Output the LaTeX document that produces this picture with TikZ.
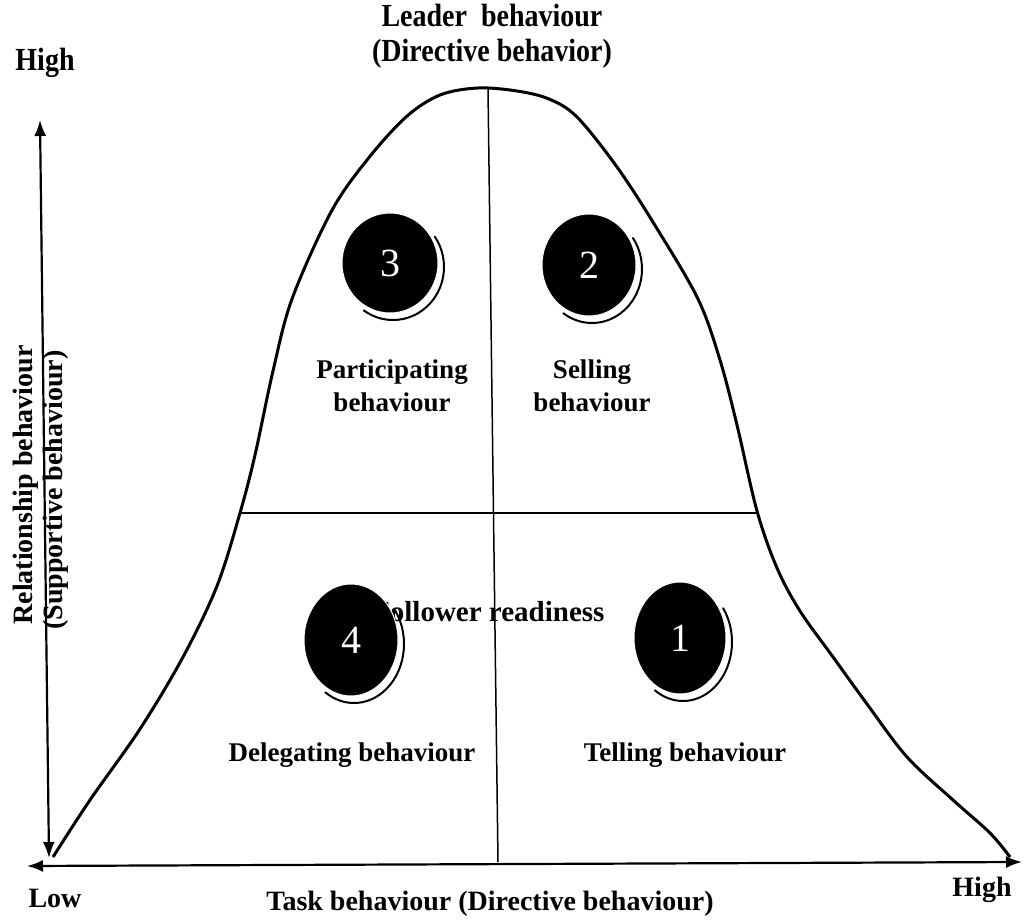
\documentclass[tikz,border=0pt]{standalone}
\usepackage{fontspec}
\setmainfont{Liberation Serif}
\usetikzlibrary{arrows.meta,shapes.geometric,calc}
\begin{document}
\begin{tikzpicture}[x=1pt,y=-1pt,
  lbl/.style={font=\fontsize{27}{33}\selectfont\bfseries, align=center, inner sep=0pt},
  ttl/.style={font=\fontsize{28}{33}\selectfont\bfseries, align=center, inner sep=0pt},
  axis/.style={line width=2.2pt, {Latex[length=16pt,width=12pt]}-{Latex[length=16pt,width=12pt]}},
  bell/.style={line width=3pt, line join=round},
  divider/.style={line width=1.5pt},
  badge/.style={ellipse, fill=black, draw=white, line width=1pt, inner sep=0pt, text=white,
                font=\fontsize{40}{40}\selectfont},
  shade/.style={line width=2pt, line cap=round}]
\fill[white] (0,0) rectangle (1029,921);
\useasboundingbox (0,0) rectangle (1029,921);

% axes
\coordinate (ytop) at (40,120);
\coordinate (ybot) at (49,858);
\coordinate (xl) at (27,866);
\coordinate (xr) at (1022,862);
\draw[axis] (ybot) -- (ytop);
\draw[axis] (xl) -- (xr);

% bell curve
\draw[bell] plot[smooth, tension=0.55] coordinates {
 (53,857) (90,800) (140,729) (183,657) (217,586) (240,513) (255,455) (273,371)
 (292,299) (331,212) (367,160) (406,117) (440,95) (478,88) (517,91) (549,99)
 (577,117) (617,167) (656,227) (698,299) (720,360) (737,425) (757,511) (777,568)
 (800,611) (833,657) (867,704) (907,757) (953,800) (990,833) (1010,857)};

% dividers
\coordinate (peak) at (488,89);
\coordinate (base) at (498,862);
\coordinate (hl) at (241,513);
\coordinate (hr) at (757,513);
\draw[divider] (peak) -- (base);
\draw[divider] (hl) -- (hr);

% labels
\node[ttl] (lead) at (492,36) {\scalebox{1}[1.15]{Leader\ \ behaviour}\\[2pt]\scalebox{1}[1.15]{(Directive behavior)}};
\node[ttl] (hightop) at (45,63) {\scalebox{1}[1.15]{High}};
\node[ttl] (low) at (55,898) {Low};
\node[ttl] (highr) at (982,890) {High};
\node[ttl] (task) at (490,904) {Task behaviour (Directive behaviour)};
\node[ttl, rotate=90] (rel) at (26,485) {Relationship behaviour};
\node[ttl, rotate=90] (sup) at (56,490) {(Supportive behaviour)};

\node[lbl] (part) at (392,386) {Participating\\behaviour};
\node[lbl] (sell) at (592,386) {Selling\\behaviour};
\node[lbl] (deleg) at (352,755) {Delegating behaviour};
\node[lbl] (tell) at (685,755) {Telling behaviour};
\node[lbl, font=\fontsize{29}{33}\selectfont\bfseries, anchor=west] (foll) at (372,612) {Follower readiness};

% badges with shadow arcs
\foreach \n/\cx/\cy/\rx/\ry in {3/390/263/48/50, 2/589/265/47/51, 4/351/640/47/56, 1/680/638/46/56}{
  \draw[shade] ($( \cx+3,\cy+4 ) + ({(\rx+3)*cos(-35)},{(\ry+3)*sin(-35)})$)
     arc[start angle=-35, end angle=125, x radius=\rx+3, y radius=\ry+3];
  \node[badge, minimum width=2*\rx pt, minimum height=2*\ry pt] (b\n) at (\cx,\cy) {\n};
}
\end{tikzpicture}
\end{document}
